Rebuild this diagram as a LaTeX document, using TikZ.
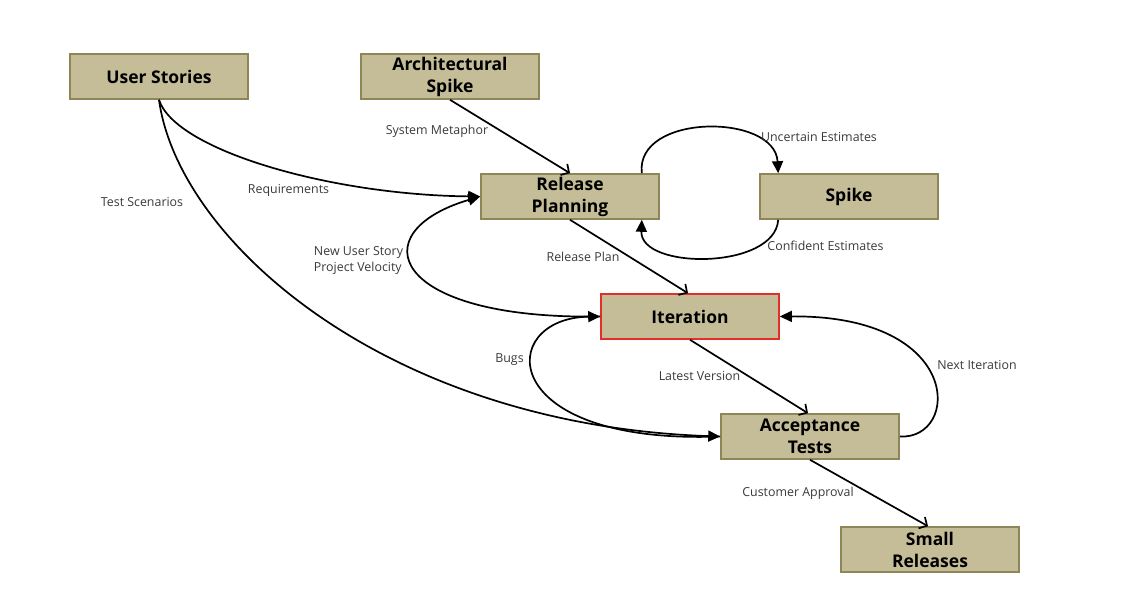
\documentclass[tikz,border=0pt]{standalone}
\usepackage{fontspec}
\setmainfont{Open Sans}
\usetikzlibrary{arrows.meta}
\definecolor{boxfill}{HTML}{C4BD97}
\definecolor{boxborder}{HTML}{8E8656}
\definecolor{itborder}{HTML}{E0302A}
\definecolor{lblcol}{HTML}{3A3A3A}
\begin{document}
\begin{tikzpicture}[x=1pt,y=-1pt,
  box/.style={draw=boxborder, fill=boxfill, line width=1.6pt, minimum width=178pt, minimum height=45pt,
    inner sep=0pt, align=center, font=\fontsize{17.5}{22}\selectfont\bfseries},
  lbl/.style={font=\fontsize{12.4}{15.5}\selectfont, text=lblcol, inner sep=0pt},
  flow/.style={line width=1.7pt, -{Triangle[length=12pt,width=11pt]}},
  straight/.style={line width=1.7pt, -{Straight Barb[length=6pt,width=13pt,line width=1.7pt]}}
]
\useasboundingbox (0,0) rectangle (1124,612);
% boxes
\node[box] (us) at (159,76.5) {User Stories};
\node[box] (as) at (450,76.5) {Architectural\\Spike};
\node[box] (rp) at (570,196.5) {Release\\Planning};
\node[box] (sp) at (849,196.5) {Spike};
\node[box, draw=itborder] (it) at (690,316.5) {Iteration};
\node[box] (at) at (810,436.5) {Acceptance\\Tests};
\node[box] (sr) at (930,549.5) {Small\\Releases};
% straight connectors
\draw[straight] (as.south) -- (rp.north);
\draw[straight] (rp.south) -- ([xshift=-2pt]it.north);
\draw[straight] (it.south) -- ([xshift=-2pt]at.north);
\draw[straight] (at.south) -- ([xshift=-2pt]sr.north);
% curves
\draw[flow] (us.south) .. controls (175,150) and (330,195) .. (rp.west);
\draw[flow] (us.south) .. controls (178,240) and (385,425) .. (at.west);
\draw[flow] (it.west) .. controls (390,320) and (360,232) .. (rp.west);
\draw[flow] (at.west) .. controls (494,445) and (496,318) .. (it.west);
\draw[flow] ([xshift=-18pt]rp.north east) .. controls (635,113) and (775,113) .. ([xshift=19pt]sp.north west);
\draw[flow] ([xshift=19pt]sp.south west) .. controls (775,270) and (640,270) .. ([xshift=-18pt]rp.south east);
\draw[flow] (at.east) .. controls (960,440) and (965,315) .. (it.east);
% labels
\node[lbl] (l1) at (437,131) {System Metaphor};
\node[lbl] (l2) at (288.5,190) {Requirements};
\node[lbl] (l3) at (142,202) {Test Scenarios};
\node[lbl] (l4) at (819,137) {Uncertain Estimates};
\node[lbl] (l5) at (825.5,246) {Confident Estimates};
\node[lbl] (l6) at (583,257) {Release Plan};
\node[lbl, align=left] (l7) at (358.5,260.5) {New User Story\\Project Velocity};
\node[lbl] (l8) at (509.5,360) {Bugs};
\node[lbl] (l9) at (699.5,376) {Latest Version};
\node[lbl] (l10) at (977,365) {Next Iteration};
\node[lbl] (l11) at (798,493) {Customer Approval};
\end{tikzpicture}
\end{document}
